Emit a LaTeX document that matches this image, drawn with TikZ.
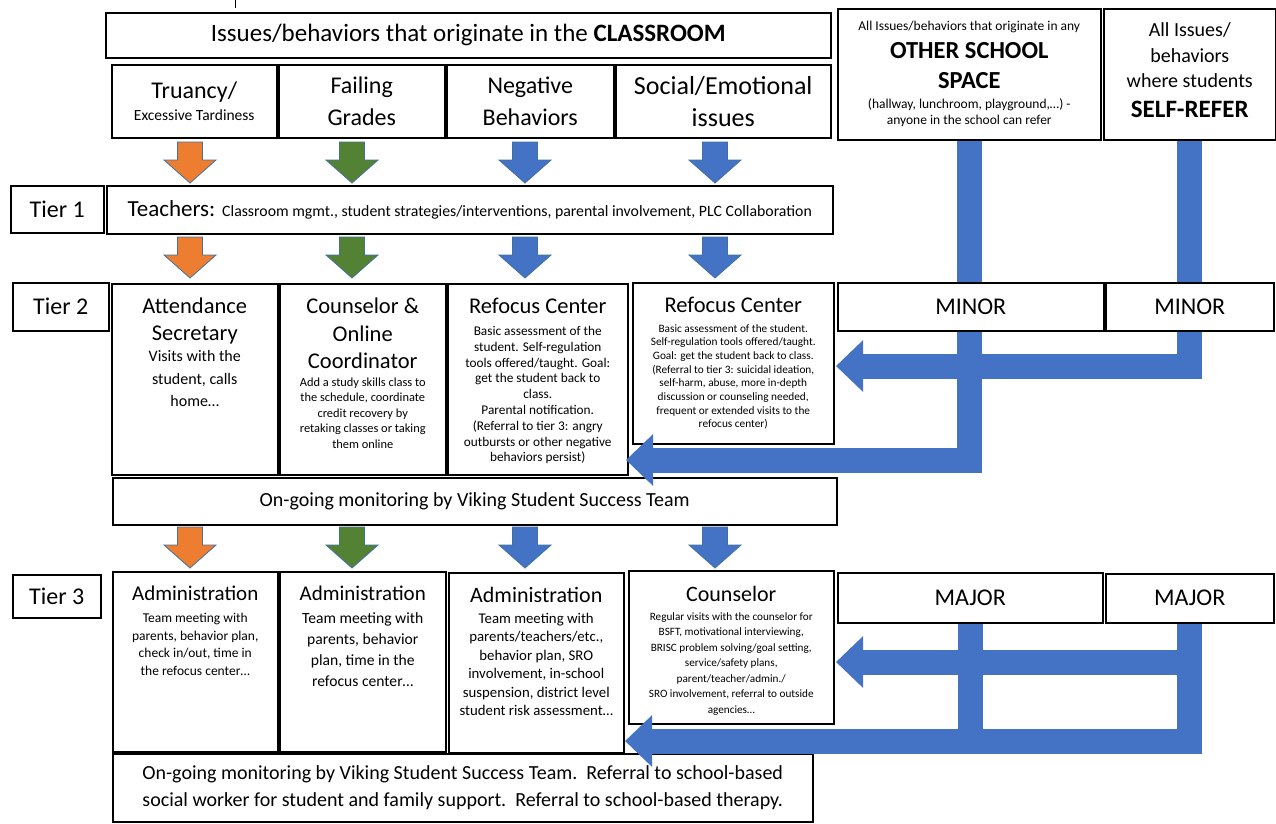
\documentclass[tikz,border=0pt]{standalone}
\usepackage{fontspec}
\setmainfont{Carlito}
\usetikzlibrary{positioning}
\usetikzlibrary{arrows.meta}
\definecolor{flowBlue}{RGB}{68,114,196}
\definecolor{flowOrange}{RGB}{237,125,49}
\definecolor{flowGreen}{RGB}{84,130,53}
\definecolor{edgeBlue}{RGB}{65,113,156}
\tikzstyle{chart} = [x = 1pt, y = -1pt]
\tikzstyle{boxStyle} = [draw=black, fill=white, line width=1.5pt, inner sep=0pt, anchor=north west, align=center]
\tikzstyle{textStyle} = [inner sep=0pt, align=center]
\tikzstyle{downStyle} = [draw=edgeBlue, line width=.8pt]
\tikzstyle{barStyle} = [draw=flowBlue, line width=25pt]
\tikzstyle{bigArrow} = [barStyle, line join=miter, -{Triangle[width=50pt, length=27pt]}]
\newcommand{\fsz}[2]{\fontsize{#1}{#2}\selectfont}
\newcommand{\chartBox}[7][]{\node [boxStyle, minimum width=#5pt, minimum height=#6pt, #1] (#2) at (#3,#4) {#7};}
\newcommand{\downArrow}[3]{\filldraw [downStyle, fill=#3] (#1 - 12.5, #2) -- ++(25,0) -- ++(0,18) -- ++(13.5,0) -- (#1, #2 + 41) -- (#1 - 26, #2 + 18) -- ++(13.5,0) -- cycle;}

\begin{document}
\begin{tikzpicture}[chart]
  \useasboundingbox (0,0) rectangle (1276,823);
  \draw [line width=.8pt] (235,0) -- (235,8);

  % where the issues come from
  \chartBox[font=\fsz{25}{30}]{classroom}{105}{12}{725}{45}{Issues/behaviors that originate in the \textbf{CLASSROOM}}
  \chartBox[font=\fsz{24}{22}]{truancy}{111}{64}{165}{73}{Truancy/\\{\fsz{15.5}{18}Excessive Tardiness}}
  \chartBox[font=\fsz{24}{32}]{failing}{278}{64}{166}{73}{Failing\\Grades}
  \chartBox[font=\fsz{24}{32}]{negative}{446}{64}{167}{73}{Negative\\Behaviors}
  \chartBox[font=\fsz{26}{32}]{social}{615}{64}{215}{73}{Social/Emotional\\issues}
  \chartBox{other}{837}{8}{263}{131}{}
  \node [textStyle, font=\fsz{13.5}{16}, below=12.5pt of other.north] (otherTop) {All Issues/behaviors that originate in any};
  \node [textStyle, font=\fsz{24.5}{30}\bfseries, below=10pt of otherTop] (otherName) {OTHER SCHOOL\\SPACE};
  \node [textStyle, font=\fsz{13.5}{16.5}, below=9pt of otherName] (otherNote) {(hallway, lunchroom, playground,…) -\\anyone in the school can refer};
  \chartBox{self}{1103}{8}{172}{131}{}
  \node [textStyle, font=\fsz{20}{25.5}, below=14.5pt of self.north] (selfTop) {All Issues/\\behaviors\\where students};
  \node [textStyle, font=\fsz{25}{30}\bfseries, below=13pt of selfTop] (selfName) {SELF-REFER};

  % tier 1
  \chartBox[font=\fsz{24}{28}]{tierOne}{10}{185}{93}{47}{Tier 1}
  \chartBox[font=\fsz{23}{26}]{teachers}{106}{185}{726}{48}{Teachers: {\fsz{15.8}{18}Classroom mgmt., student strategies/interventions, parental involvement, PLC Collaboration}}

  % tier 2
  \chartBox[font=\fsz{24}{28}]{tierTwo}{12}{282}{96}{48}{Tier 2}
  \chartBox{attendance}{111}{283}{166}{191}{}
  \node [textStyle, font=\fsz{22.5}{27}, below=15pt of attendance.north] (attendanceTitle) {Attendance\\Secretary};
  \node [textStyle, font=\fsz{16}{22.5}, below=6pt of attendanceTitle] (attendanceText) {Visits with the\\student, calls\\home…};
  \chartBox{coordinator}{279}{283}{166}{191}{}
  \node [textStyle, font=\fsz{22.5}{27.5}, below=15pt of coordinator.north] (coordinatorTitle) {Counselor \&\\Online\\Coordinator};
  \node [textStyle, font=\fsz{12.4}{15.5}, below=8pt of coordinatorTitle] (coordinatorText) {Add a study skills class to\\the schedule, coordinate\\credit recovery by\\retaking classes or taking\\them online};
  \chartBox{refocusA}{447}{283}{180}{191}{}
  \node [textStyle, font=\fsz{22.5}{27}, below=15pt of refocusA.north] (refocusATitle) {Refocus Center};
  \node [textStyle, font=\fsz{13.3}{15.8}, below=12pt of refocusATitle] (refocusAText) {Basic assessment of the\\student. Self-regulation\\tools offered/taught. Goal:\\get the student back to\\class.\\Parental notification.\\(Referral to tier 3:  angry\\outbursts or other negative\\behaviors persist)};
  \chartBox{refocusB}{632}{282}{201}{161}{}
  \node [textStyle, font=\fsz{22.5}{27}, below=15pt of refocusB.north] (refocusBTitle) {Refocus Center};
  \node [textStyle, font=\fsz{11.3}{13.7}, below=11pt of refocusBTitle] (refocusBText) {Basic assessment of the student.\\Self-regulation tools offered/taught.\\Goal: get the student back to class.\\(Referral to tier 3:  suicidal ideation,\\self-harm, abuse, more in-depth\\discussion or counseling needed,\\frequent or extended visits to the\\refocus center)};
  \chartBox[font=\fsz{20}{24}]{monitorTwo}{112}{477}{724}{47}{On-going monitoring by Viking Student Success Team}

  % tier 3
  \chartBox[font=\fsz{24}{28}]{tierThree}{12}{574}{88}{43}{Tier 3}
  \chartBox{adminA}{112}{571}{165}{180}{}
  \node [textStyle, font=\fsz{21}{24}, below=15pt of adminA.north] (adminATitle) {Administration};
  \node [textStyle, font=\fsz{13.5}{17.5}, below=12pt of adminATitle] (adminAText) {Team meeting with\\parents, behavior plan,\\check in/out, time in\\the refocus center…};
  \chartBox{adminB}{279}{571}{166}{180}{}
  \node [textStyle, font=\fsz{21}{24}, below=15pt of adminB.north] (adminBTitle) {Administration};
  \node [textStyle, font=\fsz{15.6}{21}, below=11.5pt of adminBTitle] (adminBText) {Team meeting with\\parents, behavior\\plan, time in the\\refocus center…};
  \chartBox{adminC}{448}{572}{175}{180}{}
  \node [textStyle, font=\fsz{22}{25}, below=15.5pt of adminC.north] (adminCTitle) {Administration};
  \node [textStyle, font=\fsz{14.8}{18.4}, below=9.6pt of adminCTitle] (adminCText) {Team meeting with\\parents/teachers/etc.,\\behavior plan,  SRO\\involvement, in-school\\suspension, district level\\student risk assessment…};
  \chartBox{counselor}{628}{570}{205}{153}{}
  \node [textStyle, font=\fsz{22}{27}, below=15.6pt of counselor.north] (counselorTitle) {Counselor};
  \node [textStyle, font=\fsz{11.2}{15.5}, below=11pt of counselorTitle] (counselorText) {Regular visits with the counselor for\\BSFT, motivational interviewing,\\BRISC problem solving/goal setting,\\service/safety plans,\\parent/teacher/admin./\\SRO involvement, referral to outside\\agencies…};
  \chartBox[font=\fsz{20}{27}]{monitorThree}{112}{753}{700}{68}{On-going monitoring by Viking Student Success Team.\ \ Referral to school-based\\social worker for student and family support.\ \ Referral to school-based therapy.}
  \chartBox[font=\fsz{24}{28}]{majorA}{837}{572}{265}{50}{MAJOR}
  \chartBox[font=\fsz{24}{28}]{majorB}{1105}{573}{168}{49}{MAJOR}

  % small arrows down each column
  \foreach \row in {142,237,527} {
    \foreach \cx/\col in {190/flowOrange, 352/flowGreen, 525/flowBlue, 715/flowBlue} {
      \downArrow{\cx}{\row}{\col}
    }
  }

  % referrals from outside the classroom
  \coordinate (minorTipA) at (626,460);
  \coordinate (minorTipB) at (836,366);
  \draw [bigArrow] (other.south) |- (minorTipA);
  \draw [bigArrow] (self.south) |- (minorTipB);
  \chartBox[font=\fsz{24}{28}]{minorA}{837}{282}{266}{48}{MINOR}
  \chartBox[font=\fsz{24}{28}]{minorB}{1105}{282}{168}{48}{MINOR}

  \coordinate (majorTipA) at (836,662);
  \coordinate (majorTipB) at (625,741);
  \coordinate (majorJoin) at (majorA.south |- majorTipB);
  \draw [barStyle] (majorA.south) -- (majorJoin);
  \draw [bigArrow] (majorB.south) |- (majorTipA);
  \draw [bigArrow] (majorB.south) |- (majorTipB);
\end{tikzpicture}
\end{document}
